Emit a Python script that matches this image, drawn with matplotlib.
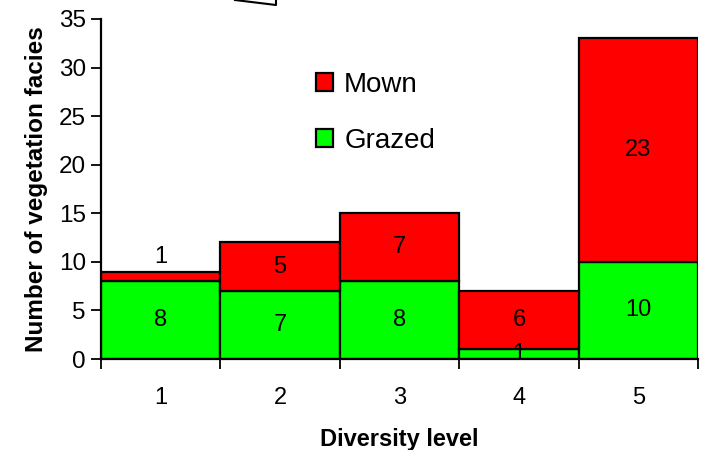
import matplotlib
matplotlib.use("Agg")
import matplotlib.pyplot as plt
import numpy as np
from matplotlib.lines import Line2D

plt.rcParams['font.family'] = ['Liberation Sans', 'DejaVu Sans']

levels = ["1", "2", "3", "4", "5"]
grazed = [8, 7, 8, 1, 10]
mown = [1, 5, 7, 6, 23]

fig = plt.figure(figsize=(7.08, 4.5), dpi=100)
ax = fig.add_axes([0.1427, 0.2022, 0.9859 - 0.1427, 0.9578 - 0.2022])

x = np.arange(1, len(levels) + 1)
ax.bar(x, grazed, width=1.0, color="#00ff00", edgecolor="black", linewidth=1.6, label="Grazed")
ax.bar(x, mown, width=1.0, bottom=grazed, color="#ff0000", edgecolor="black", linewidth=1.6, label="Mown")

for xi, g, m in zip(x, grazed, mown):
    ax.text(xi, g / 2, str(g), ha="center", va="center", fontsize=17)
    if m < 2:
        ax.text(xi, g + m + 1.5, str(m), ha="center", va="center", fontsize=17)
    else:
        ax.text(xi, g + m / 2, str(m), ha="center", va="center", fontsize=17)

ax.set_xlim(0.5, 5.5)
ax.set_ylim(0, 35)
ax.set_yticks(range(0, 36, 5))
ax.set_xticks(np.arange(0.5, 6.0, 1.0))
ax.set_xticklabels([])
ax.set_xticks(x, minor=True)
ax.set_xticklabels(levels, minor=True)
ax.tick_params(axis="x", which="minor", length=0, pad=20, labelsize=17)
ax.tick_params(axis="x", which="major", length=7, width=1.3, direction="out")
ax.tick_params(axis="y", length=7, width=1.3, labelsize=17.5, pad=4)

for s in ["top", "right"]:
    ax.spines[s].set_visible(False)
ax.spines["left"].set_linewidth(1.6)
ax.spines["bottom"].set_linewidth(1.6)

ax.set_xlabel("Diversity level", fontsize=17, fontweight="bold", labelpad=14)
ax.set_ylabel("Number of vegetation facies", fontsize=17.5, fontweight="bold", labelpad=8)

handles, labels = ax.get_legend_handles_labels()
ax.legend(handles[::-1], labels[::-1], loc="upper left", bbox_to_anchor=(0.318, 0.917),
          frameon=False, fontsize=20, handlelength=0.62, handleheight=0.62,
          handletextpad=0.4, labelspacing=1.08)

# stray drawing fragment at top
fig.add_artist(Line2D([235 / 708, 276 / 708, 276 / 708], [1.0, 1 - 5 / 450, 1.0],
                      color="black", linewidth=1.5, transform=fig.transFigure))

fig.savefig("out.png", dpi=100)
